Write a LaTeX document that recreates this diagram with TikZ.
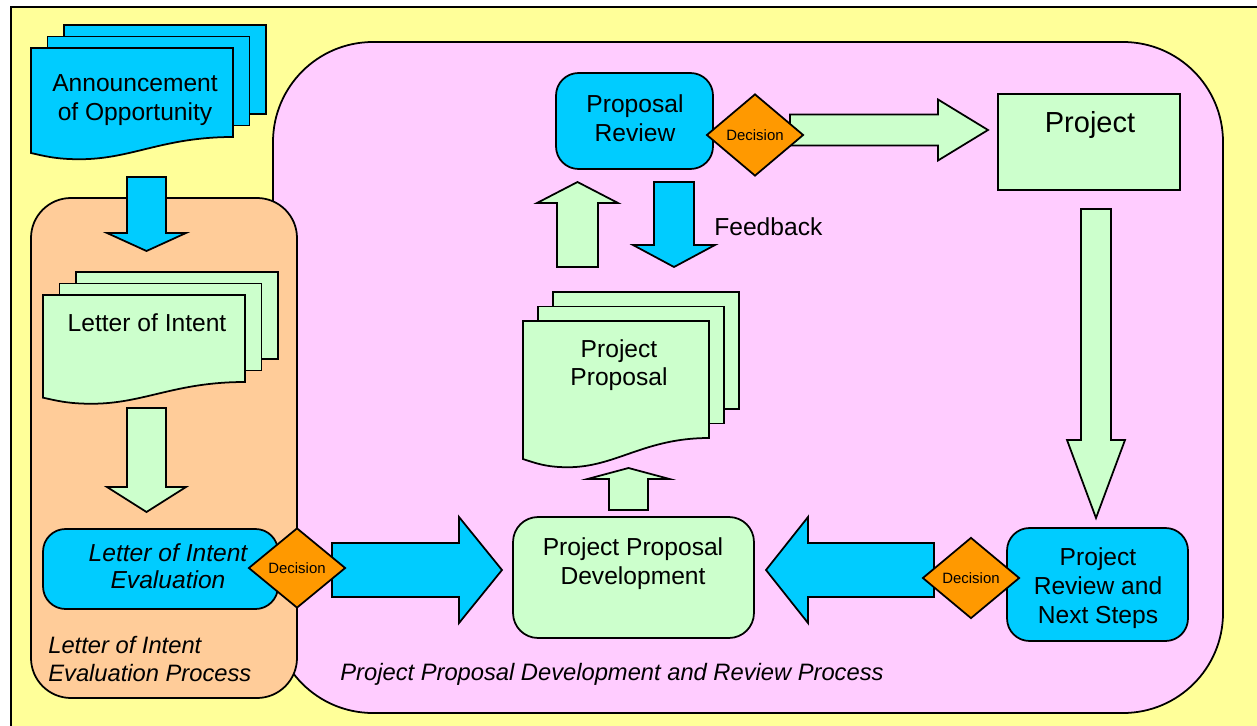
\documentclass[tikz,border=0pt]{standalone}
\usepackage{fontspec}
\setmainfont{Liberation Sans}
\usetikzlibrary{calc,shapes.geometric}
\definecolor{pagebg}{HTML}{FFFF99}
\definecolor{pinkbg}{HTML}{FFCCFF}
\definecolor{orangebg}{HTML}{FFCC99}
\definecolor{cyanfill}{HTML}{00CCFF}
\definecolor{mint}{HTML}{CCFFCC}
\definecolor{amber}{HTML}{FF9900}
\tikzset{
  edge/.style={draw=black, line width=1pt, line join=miter},
  bluebox/.style={edge, fill=cyanfill, rounded corners=0.45cm},
  greenbox/.style={edge, fill=mint, rounded corners=0.5cm},
  plainbox/.style={edge, fill=mint},
  decision/.style={diamond, edge, fill=amber, inner sep=0pt,
    minimum width=1.94cm, minimum height=1.6cm, font=\fontsize{8.5}{10}\selectfont},
  lab/.style={text=black, font=\fontsize{14}{16.3}\selectfont, align=center},
  labi/.style={text=black, font=\fontsize{13.5}{15.6}\selectfont\itshape, align=left, inner sep=0pt},
}
% stack of three pages, front page with a wavy bottom
\newcommand{\docstack}[8]{%
  \foreach \k in {2,1}{
    \draw[edge, fill=#2] ({#3+\k*#7},{#4-\k*#8}) rectangle ({#5+\k*#7},{#6-\k*#8});
  }
  \draw[edge, fill=#2] (#3,#4) -- (#5,#4) -- (#5,#6)
    .. controls ({#5-0.35*(#5-#3)},#6) and ({#3+0.5*(#5-#3)},{#6+0.25*(#6-#4)})
    .. ({#3+0.24*(#5-#3)},{#6+0.25*(#6-#4)})
    .. controls ({#3+0.12*(#5-#3)},{#6+0.25*(#6-#4)}) and ({#3+0.06*(#5-#3)},{#6+0.21*(#6-#4)})
    .. (#3,{#6+0.18*(#6-#4)}) -- cycle;
  \coordinate (#1) at ({(#3+#5)/2},{(#4+#6)/2});
}
% block arrow: fill, from, to, shaft half width, head half width, head length (px)
\newcommand{\blockarrow}[6]{%
  \coordinate (hb) at ($(#3)!{#6*0.02cm}!(#2)$);
  \draw[edge, fill=#1]
    ($(#2)!{#4*0.02cm}!90:(#3)$) -- ($(hb)!{#4*0.02cm}!90:(#3)$)
    -- ($(hb)!{#5*0.02cm}!90:(#3)$) -- (#3)
    -- ($(hb)!{#5*0.02cm}!-90:(#3)$) -- ($(hb)!{#4*0.02cm}!-90:(#3)$)
    -- ($(#2)!{#4*0.02cm}!-90:(#3)$) -- cycle;
}

\begin{document}
\begin{tikzpicture}[x=0.02cm, y=-0.02cm]
  \useasboundingbox (0,0) rectangle (1257,726);
  \clip (0,0) rectangle (1257,726);

  % background and process areas
  \fill[pagebg] (11,7) rectangle (1257,726);
  \draw[edge] (11,726) -- (11,7) -- (1257,7);
  \draw[edge, fill=pinkbg, rounded corners=2cm] (273,42) rectangle (1223,713);
  \draw[edge, fill=orangebg, rounded corners=0.8cm] (31,198) rectangle (297,698);

  % documents
  \docstack{ann}{cyanfill}{31}{48}{233}{137}{16.5}{11.5}
  \docstack{loi}{mint}{43}{295}{245}{382}{16.5}{11.5}
  \docstack{prop}{mint}{523}{321}{709}{438}{15}{14.5}

  % boxes
  \node[bluebox, minimum width=3.14cm, minimum height=1.92cm] (rev) at (634.5,121) {};
  \node[plainbox, minimum width=3.64cm, minimum height=1.92cm] (proj) at (1089,142) {};
  \node[greenbox, minimum width=4.82cm, minimum height=2.42cm] (ppd) at (633.5,577.5) {};
  \node[bluebox, minimum width=3.62cm, minimum height=2.26cm] (prns) at (1097.5,584.5) {};
  \node[bluebox, minimum width=4.7cm, minimum height=1.6cm] (loie) at (160.5,569) {};

  % arrow ends
  \coordinate (annS) at (146.5,177);  \coordinate (annE) at (146.5,251);
  \coordinate (loiS) at (146.5,408);  \coordinate (loiE) at (146.5,512);
  \coordinate (evalS) at (332,570);   \coordinate (evalE) at (502,570);
  \coordinate (ppdS) at (628.5,510);  \coordinate (ppdE) at (628.5,468);
  \coordinate (propS) at (577.5,267); \coordinate (propE) at (577.5,182);
  \coordinate (fbS) at (674,182);     \coordinate (fbE) at (674,267);
  \coordinate (revS) at (790,130);    \coordinate (revE) at (988,130);
  \coordinate (projS) at (1096,209);  \coordinate (projE) at (1096,518);
  \coordinate (prnsS) at (934,570);   \coordinate (prnsE) at (766,570);

  \blockarrow{cyanfill}{annS}{annE}{19.5}{39.5}{18}
  \blockarrow{mint}{loiS}{loiE}{19.5}{39.5}{25}
  \blockarrow{cyanfill}{evalS}{evalE}{27}{53}{43}
  \blockarrow{mint}{ppdS}{ppdE}{19.5}{41}{11}
  \blockarrow{mint}{propS}{propE}{20.5}{40.5}{21}
  \blockarrow{cyanfill}{fbS}{fbE}{20}{41}{22}
  \blockarrow{mint}{revS}{revE}{15.5}{30.5}{50}
  \blockarrow{mint}{projS}{projE}{15}{29}{78}
  \blockarrow{cyanfill}{prnsS}{prnsE}{27}{53}{42}

  % decisions
  \node[decision] (dec1) at (297,568) {Decision};
  \node[decision, minimum height=1.64cm] (dec2) at (755,135) {Decision};
  \node[decision, minimum height=1.62cm] (dec3) at (971,578) {Decision};

  % texts
  \node[lab] (annt) at (135,100) {Announcement\\of Opportunity};
  \node[lab] (loit) at (147,323) {Letter of Intent};
  \node[lab] (propt) at (619,365) {Project\\Proposal};
  \node[lab] (revt) at (635,118.5) {Proposal\\Review};
  \node[lab, font=\fontsize{16.5}{19}\selectfont] (projt) at (1090,125) {Project};
  \node[lab] (ppdt) at (633,563.5) {Project Proposal\\Development};
  \node[lab] (prnst) at (1098,588) {Project\\Review and\\Next Steps};
  \node[lab, font=\fontsize{14}{15.5}\selectfont\itshape] (loiet) at (168,566) {Letter of Intent\\Evaluation};
  \node[lab, anchor=west, inner sep=0pt] (fbt) at (714,227) {Feedback};
  \node[labi, anchor=west] (orlab) at (48,659) {Letter of Intent\\Evaluation Process};
  \node[labi] (pklab) at (612,674) {Project Proposal Development and Review Process};
\end{tikzpicture}
\end{document}
